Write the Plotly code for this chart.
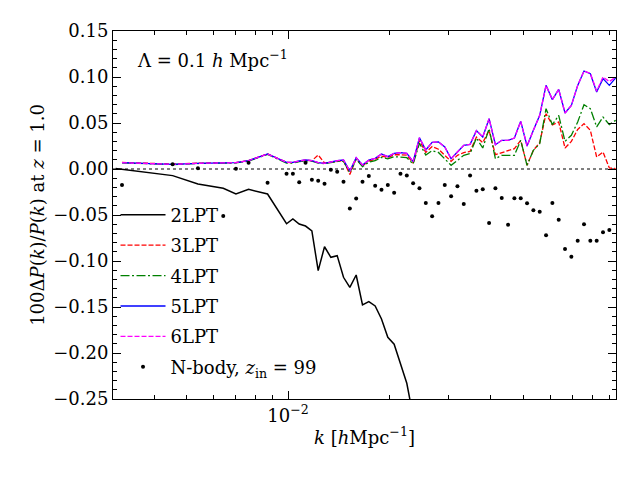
import plotly.graph_objects as go

# k bins [h/Mpc] (log-spaced bins; empty low-k bins omitted)
k = [0.0030781, 0.0032144, 0.0045429, 0.0054008, 0.0064207, 0.0070007, 0.0076331, 0.0086904,
     0.0098942, 0.010331, 0.010788, 0.011265, 0.011763, 0.012282, 0.012825, 0.013392,
     0.013984, 0.014602, 0.015247, 0.015921, 0.016625, 0.017360, 0.018127, 0.018928,
     0.019764, 0.020638, 0.021550, 0.022502, 0.023497, 0.024535, 0.025619, 0.026752,
     0.027934, 0.029168, 0.030457, 0.031803, 0.033209, 0.034676, 0.036209, 0.037809,
     0.039480, 0.041225, 0.043046, 0.044949, 0.046935, 0.049009, 0.051175, 0.053437,
     0.055798, 0.058264, 0.060839, 0.063528, 0.066335, 0.069267, 0.072328, 0.075524,
     0.078862, 0.082347, 0.085986, 0.089786, 0.093754]

lpt2 = [0.0006, -0.0002, -0.0072, -0.0163, -0.0210, -0.0272, -0.0221, -0.0272,
        -0.0595, -0.0543, -0.0598, -0.0620, -0.0672, -0.1105, -0.0845, -0.0960,
        -0.0942, -0.1177, -0.1286, -0.1152, -0.1478, -0.1442, -0.1489, -0.1630,
        -0.1830, -0.1905, -0.2112, -0.2329, -0.2690] + [None] * 32

lpt3 = [None, 0.0072, 0.0053, 0.0063, 0.0067, 0.0070, 0.0092, 0.0164,
        0.0072, 0.0070, 0.0085, 0.0095, 0.0090, 0.0152, 0.0065, 0.0075,
        0.0085, 0.0090, -0.0060, 0.0110, 0.0035, 0.0085, 0.0105, 0.0140,
        0.0125, 0.0155, 0.0155, 0.0150, 0.0065, 0.0310, 0.0180, 0.0245,
        0.0215, 0.0149, 0.0083, 0.0149, 0.0178, 0.0192, 0.0348, 0.0286,
        0.0420, 0.0156, 0.0178, 0.0192, 0.0221, 0.0312, 0.0040, 0.0203,
        0.0286, 0.0601, 0.0480, 0.0511, 0.0228, 0.0300, 0.0430, 0.0493,
        0.0420, 0.0130, 0.0185, 0.0011, 0.0004]

lpt4 = [None, 0.0066, 0.0049, 0.0060, 0.0063, 0.0066, 0.0087, 0.0158,
        0.0065, 0.0065, 0.0080, 0.0090, 0.0085, 0.0065, 0.0058, 0.0072,
        0.0082, 0.0085, -0.0040, 0.0105, 0.0025, 0.0075, 0.0090, 0.0127,
        0.0110, 0.0134, 0.0127, 0.0123, 0.0054, 0.0280, 0.0152, 0.0199,
        0.0180, 0.0112, 0.0040, 0.0094, 0.0149, 0.0167, 0.0337, 0.0228,
        0.0438, 0.0112, 0.0149, 0.0149, 0.0149, 0.0312, 0.0040, 0.0203,
        0.0275, 0.0656, 0.0482, 0.0583, 0.0301, 0.0366, 0.0511, 0.0699,
        0.0656, 0.0457, 0.0565, 0.0482, 0.0529]

lpt5 = [None, 0.0069, 0.0051, 0.0062, 0.0066, 0.0069, 0.0091, 0.0163,
        0.0072, 0.0072, 0.0087, 0.0098, 0.0091, 0.0069, 0.0062, 0.0080,
        0.0091, 0.0098, -0.0022, 0.0123, 0.0043, 0.0098, 0.0116, 0.0163,
        0.0134, 0.0170, 0.0178, 0.0170, 0.0080, 0.0340, 0.0207, 0.0290,
        0.0295, 0.0239, 0.0112, 0.0185, 0.0257, 0.0268, 0.0417, 0.0348,
        0.0547, 0.0264, 0.0312, 0.0312, 0.0337, 0.0518, 0.0250, 0.0420,
        0.0583, 0.0909, 0.0754, 0.0866, 0.0609, 0.0692, 0.0909, 0.1065,
        0.1036, 0.0837, 0.0982, 0.0909, 0.0989]

lpt6 = [None, 0.0069, 0.0051, 0.0062, 0.0066, 0.0069, 0.0091, 0.0163,
        0.0072, 0.0072, 0.0087, 0.0098, 0.0091, 0.0069, 0.0062, 0.0080,
        0.0091, 0.0098, -0.0022, 0.0123, 0.0043, 0.0098, 0.0116, 0.0163,
        0.0134, 0.0170, 0.0178, 0.0170, 0.0080, 0.0340, 0.0207, 0.0290,
        0.0295, 0.0239, 0.0112, 0.0185, 0.0257, 0.0268, 0.0417, 0.0348,
        0.0547, 0.0264, 0.0312, 0.0312, 0.0337, 0.0518, 0.0250, 0.0420,
        0.0583, 0.0909, 0.0754, 0.0866, 0.0609, 0.0692, 0.0909, 0.1065,
        0.1040, 0.0845, 0.1000, 0.0950, 0.1000]

nbody = [None, -0.0174, 0.0051, 0.0007, -0.0510, 0.0003, 0.0069, -0.0149,
         -0.0051, -0.0051, -0.0145, 0.0069, -0.0116, -0.0127, -0.0160, -0.0007,
         -0.0029, -0.0138, -0.0428, -0.0322, -0.0138, -0.0076, -0.0181, -0.0225,
         -0.0174, -0.0257, -0.0051, -0.0072, -0.0156, -0.0210, -0.0370, -0.0514,
         -0.0370, -0.0174, -0.0297, -0.0188, -0.0380, -0.0072, -0.0236, -0.0221,
         -0.0587, -0.0210, -0.0315, -0.0605, -0.0319, -0.0319, -0.0373, -0.0449,
         -0.0464, -0.0721, -0.0370, -0.0551, -0.0870, -0.0953, -0.0780, -0.0601,
         -0.0780, -0.0780, -0.0688, -0.0663, None]

x_major = [0.01]
x_major_text = ["10<sup>\u22122</sup>"]
x_minor = [0.003, 0.004, 0.005, 0.006, 0.007, 0.008, 0.009,
           0.02, 0.03, 0.04, 0.05, 0.06, 0.07, 0.08, 0.09]

FONT = "DejaVu Serif"
FS = 18

fig = go.Figure()
fig.add_trace(go.Scatter(x=k, y=lpt2, mode="lines", name="2LPT", legendgroup="a",
                         line=dict(color="black", width=1.5)))
fig.add_trace(go.Scatter(x=k, y=lpt3, mode="lines", name="3LPT", legendgroup="b",
                         line=dict(color="#ff0000", width=1.3, dash="5px,2px")))
fig.add_trace(go.Scatter(x=k, y=lpt4, mode="lines", name="4LPT", legendgroup="c",
                         line=dict(color="#008000", width=1.3, dash="9px,2.5px,2px,2.5px")))
fig.add_trace(go.Scatter(x=k, y=lpt5, mode="lines", name="5LPT", legendgroup="d",
                         line=dict(color="#0000ff", width=1.3)))
fig.add_trace(go.Scatter(x=k, y=lpt6, mode="lines", name="6LPT", legendgroup="e",
                         line=dict(color="#ff00ff", width=1.3, dash="5px,2px")))
fig.add_trace(go.Scatter(x=k, y=nbody, mode="markers", legendgroup="f",
                         name="N-body, <i>z</i><sub>in</sub> = 99",
                         marker=dict(color="black", size=4)))

fig.add_shape(type="line", xref="paper", x0=0, x1=1, yref="y", y0=0, y1=0,
              line=dict(color="black", width=1, dash="dot"), layer="below")

fig.add_annotation(x=0.044, y=0.925, xref="paper", yref="paper",
                   xanchor="left", yanchor="middle", showarrow=False,
                   text="\u039b = 0.1 <i>h</i> Mpc<sup>\u22121</sup>",
                   font=dict(family=FONT, size=FS, color="black"))

axis_common = dict(showline=True, linecolor="black", linewidth=1, mirror="allticks",
                   ticks="inside", tickcolor="black", showgrid=False, zeroline=False,
                   automargin=False,
                   tickfont=dict(family=FONT, size=FS, color="black"))

fig.update_xaxes(type="log", range=[-2.5196, -1.027],
                 tickvals=x_major, ticktext=x_major_text, ticklen=8, tickwidth=1,
                 minor=dict(tickvals=x_minor, ticklen=4, tickwidth=1, ticks="inside",
                            tickcolor="black", showgrid=False),
                 title=dict(text="<i>k</i> [<i>h</i>Mpc<sup>\u22121</sup>]",
                            font=dict(family=FONT, size=FS, color="black"), standoff=6),
                 **axis_common)
fig.update_yaxes(range=[-0.25, 0.15], dtick=0.05, tick0=0, tickformat=".2f",
                 ticklen=8, tickwidth=1,
                 minor=dict(dtick=0.01, ticklen=4, tickwidth=1, ticks="inside",
                            tickcolor="black", showgrid=False),
                 title=dict(text="100\u0394<i>P</i>(<i>k</i>)/<i>P</i>(<i>k</i>) at <i>z</i> = 1.0",
                            font=dict(family=FONT, size=FS, color="black"), standoff=3),
                 **axis_common)

fig.update_layout(
    width=640, height=480,
    margin=dict(l=113, r=24, t=31, b=81),
    plot_bgcolor="white", paper_bgcolor="white",
    font=dict(family=FONT, size=FS, color="black"),
    showlegend=True,
    legend=dict(x=0.005, y=0.55, xanchor="left", yanchor="top",
                bgcolor="rgba(0,0,0,0)", borderwidth=0,
                font=dict(family=FONT, size=FS, color="black"),
                itemwidth=45, tracegroupgap=4),
)

fig.write_html("out.html", config={"displayModeBar": False},
               post_script="document.body.style.margin='0';document.body.style.overflow='hidden';")
